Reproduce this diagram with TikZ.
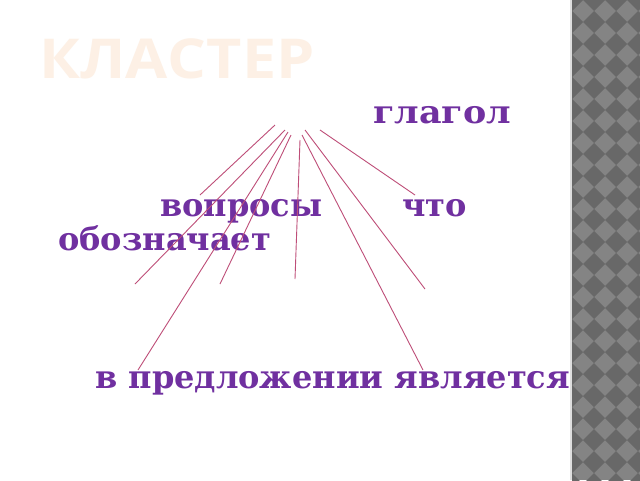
\documentclass[tikz,border=0pt]{standalone}
\usepackage{fontspec}
\setmainfont{DejaVu Serif}
\newfontfamily\titlefont{Open Sans}
\definecolor{wordpurple}{RGB}{112,48,160}
\definecolor{linemauve}{RGB}{190,78,120}
\definecolor{titlepeach}{RGB}{253,240,229}
\definecolor{stripdark}{RGB}{104,104,104}
\definecolor{striplight}{RGB}{132,132,132}
\begin{document}
\begin{tikzpicture}[x=1pt,y=-1pt,
  word/.style={anchor=base west, inner sep=0pt, text=wordpurple, font=\fontsize{32}{32}\selectfont\bfseries},
  ray/.style={draw=linemauve, line width=0.9pt}]
\useasboundingbox[fill=white] (0,0) rectangle (640,480);
% right patterned strip
\begin{scope}
  \clip (572,0) rectangle (640,480);
  \fill[striplight] (572,0) rectangle (640,480);
  \foreach \i in {0,...,4}{
    \foreach \j in {0,...,23}{
      \fill[stripdark] ({572+\i*22},{\j*22-11}) -- ++(11,11) -- ++(-11,11) -- ++(-11,-11) -- cycle;
    }
  }
\end{scope}
\draw[gray!25, line width=2pt] (571,0) -- (571,480);
% title
\node[anchor=base west, inner sep=0pt, text=titlepeach, font=\titlefont\fontsize{55}{55}\selectfont\bfseries] (title) at (39,78) {\scalebox{1.11}[1]{КЛАСТЕР}};
% words
\node[word] (glagol) at (373,123) {\scalebox{1.09}[1]{глагол}};
\node[word] (voprosy) at (160,216) {вопросы};
\node[word] (chto) at (402,216) {что};
\node[word] (oboznachaet) at (58,250) {обозначает};
\node[word] (vpredl) at (95,388) {в предложении является};
% ray coordinates
\coordinate (s1) at (275,125); \coordinate (e1) at (200,195);
\coordinate (s2) at (285,130); \coordinate (e2) at (135,284);
\coordinate (s3) at (288,132); \coordinate (e3) at (138,370);
\coordinate (s4) at (291,135); \coordinate (e4) at (220,284);
\coordinate (s5) at (300,140); \coordinate (e5) at (295,279);
\coordinate (s6) at (302,135); \coordinate (e6) at (423,370);
\coordinate (s7) at (305,130); \coordinate (e7) at (425,289);
\coordinate (s8) at (320,130); \coordinate (e8) at (415,195);
\foreach \k in {1,...,8}{\draw[ray] (s\k) -- (e\k);}
\end{tikzpicture}
\end{document}
